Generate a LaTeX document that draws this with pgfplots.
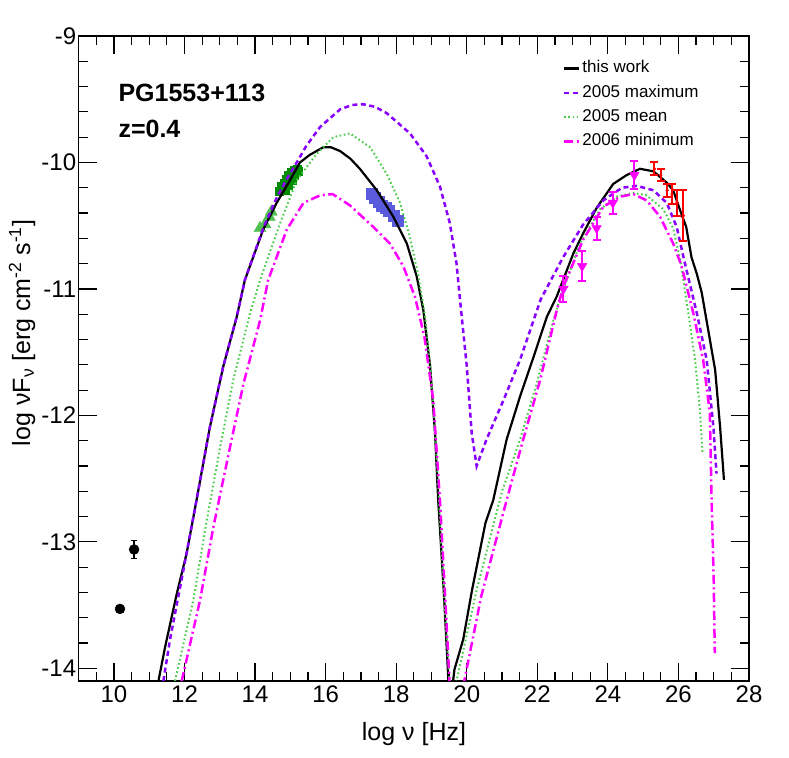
\documentclass[border=0pt]{standalone}
\usepackage{pgfplots}
\pgfplotsset{compat=1.18}
\usepackage{fontspec}
\setmainfont{Liberation Sans}
\definecolor{violetc}{RGB}{136,0,255}
\definecolor{greenc}{RGB}{68,204,68}
\definecolor{magc}{RGB}{255,0,255}
\definecolor{bluesq}{RGB}{90,90,220}
\definecolor{dgreen}{RGB}{0,140,0}
\definecolor{lgreen}{RGB}{80,190,80}
\definecolor{redc}{RGB}{255,0,0}
\begin{document}
\begin{tikzpicture}
\path[use as bounding box] (-78.7pt,-76pt) rectangle (710.3pt,681pt);
\begin{axis}[
  at={(0pt,0pt)}, anchor=south west,
  scale only axis, width=670.3pt, height=645pt,
  xmin=9, xmax=28, ymin=-14.1, ymax=-9,
  xtick={10,12,...,28}, xticklabels={10,12,14,16,18,20,22,24,26,28},
  ytick={-14,-13,...,-9}, yticklabels={-14,-13,-12,-11,-10,-9},
  minor xtick={9,9.5,...,28},
  minor ytick={-14,-13.8,...,-9},
  tick align=inside, major tick length=18pt, minor tick length=9pt,
  every tick/.style={black, line width=1.2pt},
  axis line style={line width=1.5pt},
  tick label style={font=\fontsize{24}{28}\selectfont},
  xticklabel style={yshift=-1pt},
  yticklabel style={xshift=1pt},
  clip mode=individual,
  legend style={draw=none, fill=none, at={(0.722,0.965)}, anchor=north west,
    font=\fontsize{17}{20}\selectfont, row sep=4.9pt, inner sep=0pt,
    nodes={inner sep=2pt, text height=12pt, text depth=3.5pt}},
  legend cell align=left,
  legend image code/.code={\draw[#1] (0pt,0pt) -- (15pt,0pt);},
]
% data points (behind curves)
\addplot[forget plot, only marks, mark=*, mark size=5pt, black] coordinates {(10.17,-13.53)};
\addplot[forget plot, only marks, mark=*, mark size=5pt, black,
  error bars/.cd, y dir=both, y explicit,
  error bar style={line width=1.5pt, black},
  error mark options={rotate=90, mark size=3pt, line width=1.5pt, black}]
  coordinates {(10.57,-13.06) +- (0,0.07)};
\addplot[forget plot, only marks, mark=triangle*, mark size=7pt, color=lgreen, mark options={draw=lgreen, fill=lgreen}]
  coordinates {(14.14,-10.52) (14.28,-10.49) (14.40,-10.43) (14.46,-10.39)};
\addplot[forget plot, only marks, mark=square*, mark size=4pt, color=dgreen, mark options={draw=dgreen, fill=dgreen}]
  coordinates {(14.68,-10.23) (14.75,-10.19) (14.82,-10.16) (14.88,-10.13) (14.95,-10.10) (15.02,-10.08)
  (15.10,-10.06) (15.18,-10.05) (15.22,-10.07) (14.85,-10.22) (14.95,-10.18) (15.05,-10.14) (15.12,-10.10)};
\addplot[forget plot, only marks, mark=square*, mark size=5.5pt, color=bluesq, mark options={draw=bluesq, fill=bluesq}]
  coordinates {(17.30,-10.25) (17.40,-10.28) (17.50,-10.31) (17.60,-10.34) (17.70,-10.36) (17.80,-10.38) (17.92,-10.42) (18.05,-10.46)};
% model curves
\addplot[black, line width=2.2pt] coordinates {
(11.26,-14.10) (11.45,-13.83) (11.78,-13.41) (12.06,-13.09) (12.34,-12.67) (12.72,-12.09) (13.10,-11.61)
(13.48,-11.22) (13.71,-10.93) (14.23,-10.53) (14.61,-10.32) (14.99,-10.14) (15.27,-10.00) (15.55,-9.94) (15.93,-9.88)
(16.15,-9.88) (16.41,-9.91) (16.70,-9.97) (16.97,-10.05) (17.45,-10.22) (17.92,-10.43) (18.30,-10.64)
(18.58,-10.90) (18.77,-11.17) (18.96,-11.61) (19.10,-12.14) (19.19,-12.67) (19.35,-13.40) (19.48,-14.10)
(19.55,-14.25) (19.65,-14.01) (19.90,-13.77) (20.15,-13.38) (20.53,-12.85) (20.75,-12.67) (21.13,-12.19)
(21.51,-11.85) (21.89,-11.54) (22.27,-11.22) (22.55,-11.06) (23.02,-10.72) (23.30,-10.56) (23.68,-10.36)
(24.15,-10.17) (24.53,-10.10) (24.91,-10.05) (25.29,-10.07) (25.67,-10.16) (25.85,-10.22) (26.05,-10.38)
(26.22,-10.51) (26.37,-10.75) (26.52,-10.88) (26.66,-11.03) (27.04,-11.64) (27.18,-12.09) (27.29,-12.51)};
\addlegendentry{this work}
\addplot[violetc, line width=2.5pt, dash pattern=on 5pt off 3.5pt] coordinates {
(11.40,-14.10) (11.59,-13.77) (11.97,-13.22) (12.34,-12.67) (12.72,-12.09) (13.10,-11.61) (13.48,-11.22)
(13.71,-10.93) (14.23,-10.52)
(14.61,-10.28) (14.90,-10.13) (15.18,-10.00) (15.45,-9.87) (15.84,-9.72) (16.41,-9.58) (16.75,-9.545)
(17.07,-9.54) (17.40,-9.56) (17.73,-9.61) (18.39,-9.77) (18.86,-9.95) (19.24,-10.19) (19.52,-10.48)
(19.71,-10.80) (19.81,-11.09) (20.00,-11.61) (20.14,-12.14) (20.28,-12.40) (20.56,-12.19) (21.04,-11.88)
(21.51,-11.56) (22.10,-11.08) (22.73,-10.75) (23.30,-10.49) (23.87,-10.30) (24.40,-10.20) (24.82,-10.185)
(25.29,-10.22) (25.67,-10.32) (25.95,-10.51) (26.16,-10.77) (26.52,-11.19) (26.80,-11.56) (26.99,-12.09)
(27.08,-12.46)};
\addlegendentry{2005 maximum}
\addplot[greenc, line width=2pt, dash pattern=on 1.6pt off 2.6pt] coordinates {
(11.73,-14.10) (12.25,-13.46) (12.63,-12.83) (13.01,-12.25) (13.38,-11.72) (13.86,-11.19) (14.14,-10.93)
(14.71,-10.48)
(15.18,-10.14) (15.75,-9.93) (16.22,-9.80) (16.69,-9.77) (17.26,-9.88) (17.73,-10.09) (18.11,-10.32)
(18.39,-10.59) (18.63,-10.90) (18.82,-11.22) (19.01,-11.75) (19.18,-12.50) (19.35,-13.40) (19.52,-14.15)
(19.62,-14.30) (19.71,-14.10) (20.28,-13.38) (21.00,-12.60) (21.51,-12.19) (21.98,-11.75) (22.45,-11.25)
(22.64,-11.08) (23.21,-10.64) (23.78,-10.37) (24.25,-10.27) (24.72,-10.24) (25.10,-10.26) (25.57,-10.37)
(25.85,-10.52) (26.05,-10.77) (26.28,-11.19) (26.47,-11.56) (26.61,-11.96) (26.68,-12.30)};
\addlegendentry{2005 mean}
\addplot[magc, line width=2.5pt, dash pattern=on 9pt off 3.5pt on 2pt off 3.5pt] coordinates {
(11.92,-14.10) (12.44,-13.46) (12.82,-12.88) (13.29,-12.25) (13.67,-11.75) (14.14,-11.25) (14.37,-10.93)
(14.90,-10.53)
(15.37,-10.32) (15.84,-10.26) (16.20,-10.25) (16.69,-10.34) (17.35,-10.51) (17.82,-10.64) (18.20,-10.82)
(18.53,-11.06) (18.80,-11.38) (19.05,-11.88) (19.24,-12.67) (19.40,-13.50) (19.52,-14.15) (19.70,-14.60)
(19.93,-14.10) (20.41,-13.43) (21.13,-12.67) (21.60,-12.19) (22.08,-11.72) (22.55,-11.17) (22.74,-10.98)
(23.30,-10.61) (23.87,-10.35) (24.35,-10.27) (24.72,-10.25) (25.10,-10.30) (25.48,-10.43) (25.85,-10.64)
(26.09,-10.82) (26.42,-11.19) (26.70,-11.56) (26.89,-11.98) (26.94,-12.67) (27.00,-13.30) (27.03,-13.88)};
\addlegendentry{2006 minimum}
% gamma-ray data
\addplot[forget plot, only marks, mark=triangle*, mark size=5.5pt, color=magc,
  mark options={rotate=180, draw=magc, fill=magc},
  error bars/.cd, y dir=both, y explicit,
  error bar style={line width=2pt, magc},
  error mark options={rotate=90, mark size=4pt, line width=2pt, magc}]
  coordinates {(22.74,-11.00) +- (0,0.10) (23.27,-10.82) +- (0,0.12) (23.68,-10.52) +- (0,0.09)
  (24.14,-10.32) +- (0,0.09) (24.75,-10.10) +- (0,0.11)};
\addplot[forget plot, only marks, mark=*, mark size=1.5pt, color=redc,
  error bars/.cd, y dir=both, y explicit,
  error bar style={line width=2pt, redc},
  error mark options={rotate=90, mark size=4pt, line width=2pt, redc}]
  coordinates {(25.32,-10.05) +- (0,0.05) (25.50,-10.10) +- (0,0.05) (25.68,-10.22) +- (0,0.05)
  (25.82,-10.25) +- (0,0.08) (25.96,-10.32) +- (0,0.10) (26.14,-10.42) +- (0,0.20)};
\end{axis}
\node[anchor=base west, font=\fontsize{25}{30}\selectfont\bfseries] at (36.3pt,579pt) {PG1553+113};
\node[anchor=base west, font=\fontsize{25}{30}\selectfont\bfseries] at (36.3pt,543pt) {z=0.4};
\node[anchor=base, font=\fontsize{25}{30}\selectfont] at (335.3pt,-59pt) {log ν [Hz]};
\node[rotate=90, font=\fontsize{25}{30}\selectfont] at (-56.7pt,348pt) {log νF\textsubscript{ν} [erg cm\textsuperscript{-2} s\textsuperscript{-1}]};
\end{tikzpicture}
\end{document}
